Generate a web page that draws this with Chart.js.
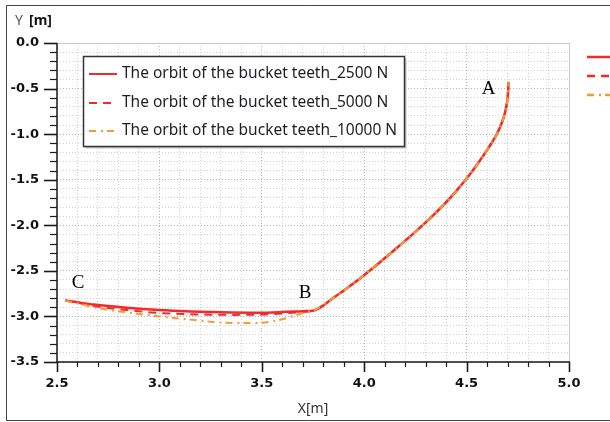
<!DOCTYPE html>
<html><head><meta charset="utf-8">
<script src="https://cdn.jsdelivr.net/npm/chart.js@4/dist/chart.umd.min.js"></script>
<style>html,body{margin:0;padding:0;background:#fff;overflow:hidden}#wrap{position:relative;width:610px;height:422px}</style>
</head><body><div id="wrap"><canvas id="c" width="610" height="422"></canvas></div>
<script>
// ---- data ----
const seriesLabels = [
  'The orbit of the bucket teeth_2500 N',
  'The orbit of the bucket teeth_5000 N',
  'The orbit of the bucket teeth_10000 N'
];
const xTickLabels = ['2.5','3.0','3.5','4.0','4.5','5.0'];
const yTickLabels = ['0.0','-0.5','-1.0','-1.5','-2.0','-2.5','-3.0','-3.5'];
const pointNames = ['A','B','C'];

// shared arc from B up to A
const arcX = [3.755, 3.85, 3.95, 4.077, 4.16, 4.24, 4.32, 4.403, 4.45, 4.50, 4.54, 4.575, 4.605, 4.635, 4.66, 4.68, 4.693, 4.701, 4.705];
const arcY = [-2.934, -2.796, -2.634, -2.405, -2.247, -2.091, -1.927, -1.74, -1.622, -1.487, -1.369, -1.257, -1.158, -1.05, -0.94, -0.824, -0.707, -0.587, -0.427];

// C -> B segments, one per load
const segX2500 = [2.54, 2.60, 2.68, 2.84, 3.00, 3.15, 3.30, 3.48, 3.62, 3.70];
const segY2500 = [-2.825, -2.845, -2.870, -2.905, -2.930, -2.945, -2.955, -2.960, -2.950, -2.942];
const segX5000 = [2.54, 2.60, 2.68, 2.84, 3.00, 3.18, 3.35, 3.50, 3.62, 3.70];
const segY5000 = [-2.825, -2.850, -2.885, -2.930, -2.962, -2.978, -2.983, -2.980, -2.965, -2.950];
const segX10000 = [2.54, 2.60, 2.69, 2.84, 3.00, 3.16, 3.31, 3.47, 3.57, 3.67, 3.72];
const segY10000 = [-2.825, -2.855, -2.905, -2.955, -3.000, -3.036, -3.068, -3.073, -3.047, -2.985, -2.952];

function buildPoints(sx, sy){
  const pts = sx.map((x,i)=>({x:x, y:sy[i]}));
  return pts.concat(arcX.map((x,i)=>({x:x, y:arcY[i]})));
}

const RED = '#f5292b', ORANGE = '#f39a34';
const dashStyles = [[], [8,6], [7,5,2,4]];
const colors = [RED, RED, ORANGE];
const widths = [2.5, 2, 2];

function isMajor(v){ return Math.abs(v*2 - Math.round(v*2)) < 1e-6; }

const decorPlugin = {
  id: 'decor',
  beforeDraw(chart){
    const ctx = chart.ctx;
    ctx.save();
    ctx.fillStyle = '#fff';
    ctx.fillRect(0,0,chart.width,chart.height);
    ctx.restore();
  },
  afterDraw(chart){
    const ctx = chart.ctx, ca = chart.chartArea;
    const xs = chart.scales.x, ys = chart.scales.y;
    ctx.save();
    // plot frame top/right
    ctx.strokeStyle = '#c9c9c9'; ctx.lineWidth = 1; ctx.setLineDash([]);
    ctx.beginPath();
    ctx.moveTo(ca.left, Math.round(ca.top)+0.5); ctx.lineTo(Math.round(ca.right)+0.5, Math.round(ca.top)+0.5);
    ctx.lineTo(Math.round(ca.right)+0.5, ca.bottom);
    ctx.stroke();
    // axes
    ctx.strokeStyle = '#1a1a1a'; ctx.lineWidth = 1.5;
    ctx.beginPath();
    ctx.moveTo(ca.left, ca.top); ctx.lineTo(ca.left, ca.bottom); ctx.lineTo(ca.right+1, ca.bottom);
    ctx.stroke();
    // ticks
    xs.ticks.forEach(t=>{
      const maj = isMajor(t.value);
      const px = Math.round(xs.getPixelForValue(t.value)) + 0.5;
      ctx.lineWidth = maj ? 1.6 : 1.2;
      ctx.beginPath(); ctx.moveTo(px, ca.bottom); ctx.lineTo(px, ca.bottom + (maj?10:5)); ctx.stroke();
    });
    ys.ticks.forEach(t=>{
      const maj = isMajor(t.value);
      const py = Math.round(ys.getPixelForValue(t.value)) + 0.5;
      ctx.lineWidth = maj ? 1.6 : 1.2;
      ctx.beginPath(); ctx.moveTo(ca.left - (maj?13:7), py); ctx.lineTo(ca.left, py); ctx.stroke();
    });
    // Y title
    ctx.textBaseline = 'alphabetic'; ctx.textAlign = 'left';
    ctx.font = '14px "Noto Sans"'; ctx.fillStyle = '#4b5263';
    ctx.fillText('Y', 15, 25);
    ctx.font = 'bold 14px "Noto Sans"'; ctx.fillStyle = '#111';
    ctx.fillText('[m]', 29, 25);
    // legend box
    const lx = 83.5, ly = 56.5, lw = 321, lh = 90;
    ctx.fillStyle = '#c4c4c4';
    ctx.fillRect(lx+2, ly+2, lw, lh);
    ctx.fillStyle = '#fff';
    ctx.fillRect(lx, ly, lw, lh);
    ctx.strokeStyle = '#333'; ctx.lineWidth = 1.5;
    ctx.strokeRect(lx, ly, lw, lh);
    const rowsY = [74, 103, 131];
    chart.data.datasets.forEach((ds, i)=>{
      ctx.strokeStyle = ds.borderColor; ctx.lineWidth = 2;
      ctx.setLineDash(ds.borderDash || []);
      ctx.beginPath(); ctx.moveTo(89, rowsY[i]); ctx.lineTo(117, rowsY[i]); ctx.stroke();
      ctx.setLineDash([]);
      ctx.fillStyle = '#1e1e28'; ctx.font = '15.5px "Noto Sans"'; ctx.textBaseline = 'middle';
      ctx.fillText(ds.label, 122, rowsY[i]);
      // cut-off second legend at the right edge
      const ry = [57, 76, 95][i];
      ctx.strokeStyle = ds.borderColor; ctx.lineWidth = 2.5;
      ctx.setLineDash(ds.borderDash || []);
      ctx.beginPath(); ctx.moveTo(587, ry); ctx.lineTo(615, ry); ctx.stroke();
      ctx.setLineDash([]);
    });
    // point names A, B, C
    ctx.fillStyle = '#000'; ctx.font = '19px "Liberation Serif"';
    ctx.textAlign = 'center'; ctx.textBaseline = 'alphabetic';
    const aPx = xs.getPixelForValue(arcX[arcX.length-1]), aPy = ys.getPixelForValue(arcY[arcY.length-1]);
    ctx.fillText(pointNames[0], aPx - 20, aPy + 12);
    const bPx = xs.getPixelForValue(arcX[0]), bPy = ys.getPixelForValue(arcY[0]);
    ctx.fillText(pointNames[1], bPx - 9, bPy - 12);
    const cPx = xs.getPixelForValue(segX2500[0]), cPy = ys.getPixelForValue(segY2500[0]);
    ctx.fillText(pointNames[2], cPx + 13, cPy - 12);
    // outer frame
    ctx.strokeStyle = '#444'; ctx.lineWidth = 1;
    ctx.beginPath();
    ctx.moveTo(620, 5.5); ctx.lineTo(6.5, 5.5); ctx.lineTo(6.5, 420.5); ctx.lineTo(620, 420.5);
    ctx.stroke();
    ctx.restore();
  }
};

const gridColor = (c)=> (c.tick && isMajor(c.tick.value)) ? '#b4b4b4' : '#d2d2d2';

new Chart(document.getElementById('c'), {
  type: 'scatter',
  data: {
    datasets: [
      {label: seriesLabels[0], data: buildPoints(segX2500, segY2500), borderColor: colors[0], borderWidth: widths[0], borderDash: dashStyles[0], order: 2},
      {label: seriesLabels[1], data: buildPoints(segX5000, segY5000), borderColor: colors[1], borderWidth: widths[1], borderDash: dashStyles[1], order: 1},
      {label: seriesLabels[2], data: buildPoints(segX10000, segY10000), borderColor: colors[2], borderWidth: widths[2], borderDash: dashStyles[2], order: 0}
    ].map(d=>Object.assign(d, {showLine: true, pointRadius: 0, cubicInterpolationMode: 'monotone', fill: false, backgroundColor: d.borderColor}))
  },
  options: {
    responsive: false, animation: false, devicePixelRatio: 1,
    layout: {padding: {left: 0, top: 43, right: 41, bottom: 0}},
    plugins: {legend: {display: false}, tooltip: {enabled: false}},
    scales: {
      x: {
        type: 'linear', min: 2.5, max: 5.0,
        afterFit: (s)=>{ s.height = 60; },
        ticks: {stepSize: 0.1, autoSkip: false, maxRotation: 0, padding: 14,
          color: '#111', font: {family: 'DejaVu Sans', weight: 'bold', size: 13},
          callback: (v)=>{ const s = Number(v).toFixed(1); return (isMajor(v) && xTickLabels.includes(s)) ? s : ''; }},
        grid: {color: gridColor, lineWidth: 1, drawTicks: false},
        border: {display: false, dash: [1,2]},
        title: {display: true, text: 'X[m]', color: '#333', font: {family: 'Noto Sans', size: 14}, padding: {top: 0, bottom: 5}}
      },
      y: {
        type: 'linear', min: -3.5, max: 0,
        afterFit: (s)=>{ s.width = 57; },
        ticks: {stepSize: 0.1, autoSkip: false, padding: 18,
          color: '#111', font: {family: 'DejaVu Sans', weight: 'bold', size: 13},
          callback: (v)=>{ const s = Number(v).toFixed(1); return (isMajor(v) && yTickLabels.includes(s)) ? s : ''; }},
        grid: {color: gridColor, lineWidth: 1, drawTicks: false},
        border: {display: false, dash: [1,2]}
      }
    }
  },
  plugins: [decorPlugin]
});
</script></body></html>
